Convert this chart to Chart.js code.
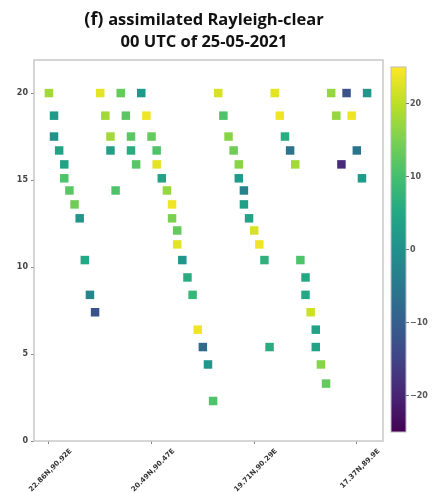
<!DOCTYPE html>
<html>
<head>
<meta charset="utf-8">
<script src="https://cdn.jsdelivr.net/npm/chart.js@4.4.0/dist/chart.umd.min.js"></script>
<style>
  html, body { margin: 0; padding: 0; background: #fff; }
</style>
</head>
<body>
<canvas id="myChart" width="435" height="492"></canvas>
<script>
const titleTag = "(f)";
const titleLine1 = "assimilated Rayleigh-clear";
const titleLine2 = "00 UTC of 25-05-2021";

// observation number along the track (x), height (y) and value (colour)
const profileIndex = [
  0, 1, 1, 2, 3, 3, 4, 5, 6, 7, 8, 9,
  10, 11, 12, 12, 13,
  14, 15, 16, 16, 17,
  18, 19, 20, 21, 21, 22, 23, 24, 24, 25, 25, 26, 27, 28, 29, 30, 31, 32,
  33, 34, 35, 36, 37, 37, 38, 38, 39, 40, 41, 42, 43,
  44, 45, 46, 47, 48, 49, 50, 50, 51, 52, 52, 53, 54,
  55, 56, 57, 58, 59, 60, 61, 62
];
const heightKm = [
  20, 18.7, 17.5, 16.7, 15.9, 15.1, 14.4, 13.6, 12.8, 10.4, 8.4, 7.4,
  20, 18.7, 17.5, 16.7, 14.4,
  20, 18.7, 17.5, 16.7, 15.9,
  20, 18.7, 17.5, 16.7, 15.9, 15.1, 14.4, 13.6, 12.8, 12.1, 11.3, 10.4, 9.4, 8.4, 6.4, 5.4, 4.4, 2.3,
  20, 18.7, 17.5, 16.7, 15.9, 15.1, 14.4, 13.6, 12.8, 12.1, 11.3, 10.4, 5.4,
  20, 18.7, 17.5, 16.7, 15.9, 10.4, 9.4, 8.4, 7.4, 6.4, 5.4, 4.4, 3.3,
  20, 18.7, 15.9, 20, 18.7, 16.7, 15.1, 20
];
const obsValue = [
  18, 2, 0, 4, 4, 11, 12, 14, 1, 5, -2, -12,
  23, 18, 18, 3, 11,
  13, 12, 12, 6, 12,
  1, 24, 13, 11, 23, 4, 17, 24, 15, 13, 23, 1, 6, 8, 24, -8, 1, 11,
  22, 11, 16, 14, 16, 2, -3, 3, 4, 22, 24, 7, 6,
  23, 24, 6, -6, 18, 11, 5, 5, 21, 4, 4, 16, 13,
  17, 17, -19, -12, 24, -6, 2, 1
];

const xTickValues = [0, 20, 40, 60];
const xTickLabels = ["22.86N,90.92E", "20.49N,90.47E", "19.71N,90.29E", "17.37N,89.9E"];
const yTickValues = [0, 5, 10, 15, 20];
const cbarTicks = [20, 10, 0, -10, -20];
const cbarMin = -25;
const cbarMax = 25;

const viridisStops = ["#440154", "#482475", "#414487", "#355f8d", "#2a788e", "#21918c",
  "#22a884", "#44bf70", "#7ad151", "#bddf26", "#fde725"];

function hexToRgb(h) {
  return [parseInt(h.substr(1, 2), 16), parseInt(h.substr(3, 2), 16), parseInt(h.substr(5, 2), 16)];
}

function viridis(t) {
  t = Math.max(0, Math.min(1, t));
  const pos = t * (viridisStops.length - 1);
  const i = Math.min(Math.floor(pos), viridisStops.length - 2);
  const f = pos - i;
  const a = hexToRgb(viridisStops[i]);
  const b = hexToRgb(viridisStops[i + 1]);
  const c = a.map((v, k) => Math.round(v + (b[k] - v) * f));
  return "rgb(" + c.join(",") + ")";
}

function colourFor(v) {
  return viridis((v - cbarMin) / (cbarMax - cbarMin));
}

const points = profileIndex.map((x, i) => ({ x: x, y: heightKm[i] }));
const pointColours = obsValue.map(colourFor);

// title, frame and colour bar
const extras = {
  id: "extras",
  afterDraw(chart) {
    const ctx = chart.ctx;
    const area = chart.chartArea;
    ctx.save();

    ctx.strokeStyle = "#c8c8c8";
    ctx.lineWidth = 1.5;
    ctx.strokeRect(area.left, area.top, area.right - area.left, area.bottom - area.top);

    // title
    ctx.fillStyle = "#111";
    ctx.textBaseline = "alphabetic";
    const cx = 204;
    ctx.font = 'bold 18px "Open Sans"';
    const wTag = ctx.measureText(titleTag + " ").width;
    ctx.font = 'bold 16.5px "Open Sans"';
    const w1 = ctx.measureText(titleLine1).width;
    let x0 = cx - (wTag + w1) / 2;
    ctx.textAlign = "left";
    ctx.font = 'bold 18px "Open Sans"';
    ctx.fillText(titleTag, x0, 25);
    ctx.font = 'bold 16.5px "Open Sans"';
    ctx.fillText(titleLine1, x0 + wTag, 25);
    ctx.textAlign = "center";
    ctx.fillText(titleLine2, cx, 47);

    // colour bar
    const bx = 391, bw = 15, top = 67, bottom = 432;
    const grad = ctx.createLinearGradient(0, bottom, 0, top);
    viridisStops.forEach((c, i) => grad.addColorStop(i / (viridisStops.length - 1), c));
    ctx.fillStyle = grad;
    ctx.fillRect(bx, top, bw, bottom - top);
    ctx.strokeStyle = "#bbb";
    ctx.lineWidth = 1;
    ctx.strokeRect(bx, top, bw, bottom - top);
    ctx.fillStyle = "#555";
    ctx.strokeStyle = "#777";
    ctx.font = 'bold 8px "DejaVu Sans"';
    ctx.textAlign = "left";
    ctx.textBaseline = "middle";
    cbarTicks.forEach(v => {
      const y = bottom - (v - cbarMin) / (cbarMax - cbarMin) * (bottom - top);
      ctx.beginPath();
      ctx.moveTo(bx + bw, y);
      ctx.lineTo(bx + bw + 3, y);
      ctx.stroke();
      ctx.fillText(v < 0 ? "\u2212" + Math.abs(v) : String(v), bx + bw + 4, y);
    });
    ctx.restore();
  }
};

const ctx = document.getElementById("myChart").getContext("2d");
const myChart = new Chart(ctx, {
  type: "scatter",
  data: {
    datasets: [
      {
        data: points,
        backgroundColor: pointColours,
        borderWidth: 0,
        pointStyle: "rect",
        pointRadius: 6,
        pointHoverRadius: 6,
      },
    ],
  },
  options: {
    responsive: false,
    animation: false,
    layout: { padding: { left: 0, right: 52, top: 60, bottom: 0 } },
    plugins: {
      legend: { display: false },
      tooltip: { enabled: false },
    },
    scales: {
      x: {
        type: "linear",
        min: -2.9,
        max: 65.1,
        afterBuildTicks: (scale) => {
          scale.ticks = xTickValues.map(v => ({ value: v }));
        },
        afterFit: (scale) => { scale.height = 51; },
        grid: { display: true, drawOnChartArea: false, tickLength: 3, color: "#888" },
        border: { display: false },
        ticks: {
          minRotation: 45,
          maxRotation: 45,
          labelOffset: 22,
          padding: 3,
          color: "#333",
          font: { family: "DejaVu Sans", size: 7, weight: "bold" },
          callback: (v) => xTickLabels[xTickValues.indexOf(v)],
        },
      },
      y: {
        min: 0,
        max: 21.9,
        afterBuildTicks: (scale) => {
          scale.ticks = yTickValues.map(v => ({ value: v }));
        },
        afterFit: (scale) => { scale.width = 34; },
        grid: { display: true, drawOnChartArea: false, tickLength: 3, color: "#888" },
        border: { display: false },
        ticks: {
          padding: 3,
          color: "#444",
          font: { family: "DejaVu Sans", size: 8, weight: "bold" },
        },
      },
    },
  },
  plugins: [extras],
});
</script>
</body>
</html>
